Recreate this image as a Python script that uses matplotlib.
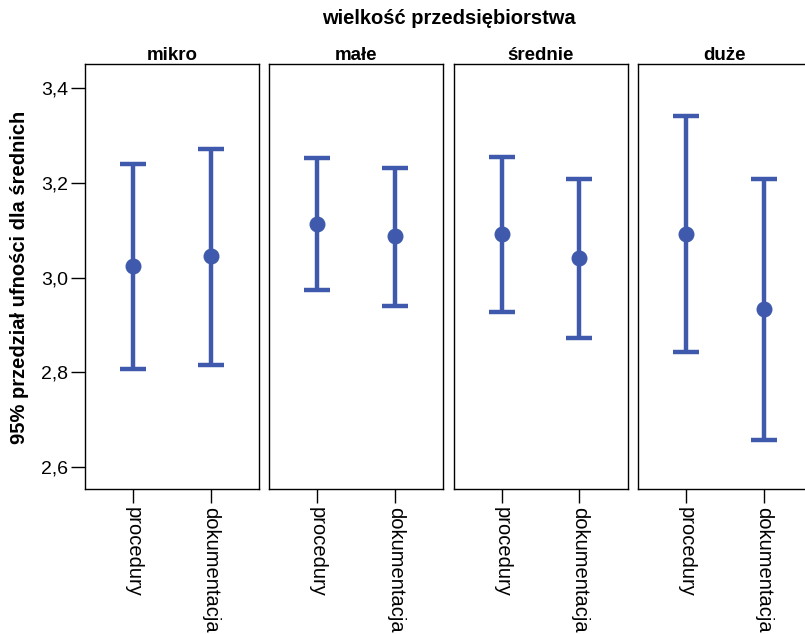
import matplotlib
matplotlib.use("Agg")
import matplotlib.pyplot as plt

plt.rcParams["font.family"] = ["Liberation Sans", "DejaVu Sans"]

# dane
groups = ["mikro", "małe", "średnie", "duże"]
categories = ["procedury", "dokumentacja"]
means = [[3.024, 3.045], [3.113, 3.087], [3.091, 3.041], [3.091, 2.934]]
lower = [[2.807, 2.816], [2.974, 2.939], [2.927, 2.873], [2.842, 2.658]]
upper = [[3.240, 3.272], [3.253, 3.231], [3.255, 3.207], [3.340, 3.208]]
yticks = [2.6, 2.8, 3.0, 3.2, 3.4]

COLOR = "#3f5aac"
W, H = 805, 634
fig = plt.figure(figsize=(W / 100, H / 100), dpi=100)

left0, pw, gap = 85, 174, 10.3
top, bottom = 64, 489
for i, g in enumerate(groups):
    x0 = left0 + i * (pw + gap)
    ax = fig.add_axes([x0 / W, 1 - bottom / H, pw / W, (bottom - top) / H])
    xs = list(range(len(categories)))
    err_lo = [m - l for m, l in zip(means[i], lower[i])]
    err_hi = [u - m for m, u in zip(means[i], upper[i])]
    ax.errorbar(xs, means[i], yerr=[err_lo, err_hi], fmt="o", color=COLOR,
                ms=10.5, elinewidth=3.2, capsize=9.7, capthick=3.2)
    ax.set_xlim(-0.62, 1.62)
    ax.set_ylim(2.5536, 3.4507)
    ax.set_xticks(xs)
    ax.set_xticklabels(categories, rotation=270, va="top", ha="center", fontsize=14.5)
    ax.tick_params(axis="x", length=10, width=1, pad=3)
    if i == 0:
        ax.set_yticks(yticks)
        ax.set_yticklabels([f"{v:.1f}".replace(".", ",") for v in yticks], fontsize=14)
        ax.tick_params(axis="y", length=10, width=1, pad=2)
    else:
        ax.set_yticks([])
    for s in ax.spines.values():
        s.set_linewidth(1)
    ax.set_title(g, fontsize=13.5, fontweight="bold", pad=3)

fig.text(449 / W, 1 - 18 / H, "wielkość przedsiębiorstwa", ha="center", va="center",
         fontsize=14.5, fontweight="bold")
fig.text(20 / W, 1 - 277 / H, "95% przedział ufności dla średnich", ha="center", va="center",
         rotation=90, fontsize=14.5, fontweight="bold")

fig.savefig("out.png", dpi=100)
